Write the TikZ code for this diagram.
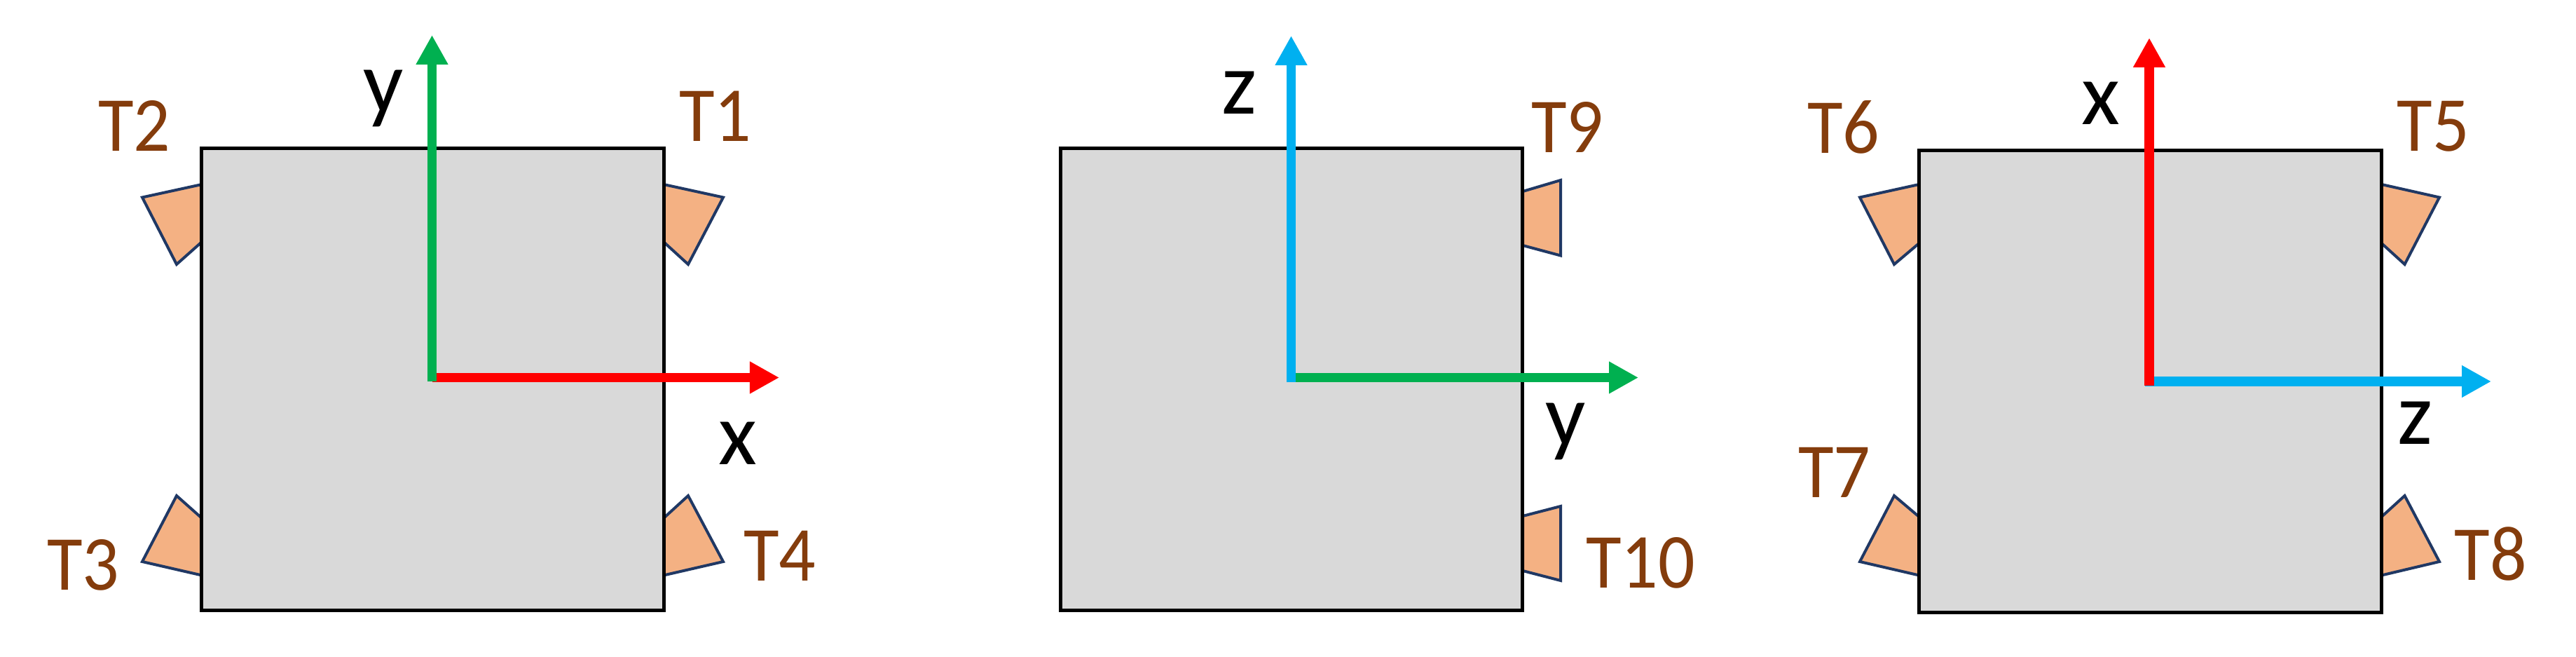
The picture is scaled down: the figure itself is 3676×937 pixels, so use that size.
\documentclass[tikz,border=0pt]{standalone}
\usepackage{xcolor}
\usepackage{fontspec}
\setmainfont{Carlito}
\usetikzlibrary{arrows.meta}
\definecolor{axisred}{HTML}{FF0000}
\definecolor{axisgreen}{HTML}{00B050}
\definecolor{axisblue}{HTML}{00B0F0}
\definecolor{wedgefill}{HTML}{F4B183}
\definecolor{wedgeline}{HTML}{203864}
\definecolor{bodyfill}{HTML}{D9D9D9}
\definecolor{tempcolor}{HTML}{843C0C}

\begin{document}
\begin{tikzpicture}[x=0.01cm, y=-0.01cm,
        body/.style={rectangle, draw=black, fill=bodyfill, line width=0.05cm, minimum size=6.59cm, inner sep=0pt},
        wedge/.style={draw=wedgeline, fill=wedgefill, line width=0.04cm, line join=miter},
        axis/.style={line width=0.135cm, -{Triangle[length=0.42cm, width=0.43cm]}},
        temp/.style={text=tempcolor, inner sep=0pt, yscale=1.07, transform shape, font=\fontsize{29.5}{32}\selectfont},
        letter/.style={text=black, inner sep=0pt, font=\fontsize{36}{40}\selectfont},
        ]
        \useasboundingbox (0,0) rectangle (3676,937);

        % left
        \draw[wedge] (947,263) -- (1032,281.5) -- (982,377) -- (947,345) -- cycle;
        \draw[wedge] (288,263) -- (203,281.5) -- (252,377) -- (288,345) -- cycle;
        \draw[wedge] (288,739) -- (252,707) -- (203,801) -- (288,820.5) -- cycle;
        \draw[wedge] (947,739) -- (982,707) -- (1032,801) -- (947,820.5) -- cycle;
        \node[body] (bodyA) at (617.5,541) {};

        \coordinate (oxA) at (617,538.5);
        \coordinate (oyA) at (616.5,544);
        \coordinate (xA) at (1112,538.5);
        \coordinate (yA) at (616.5,50);
        \draw[axis, axisred] (oxA) -- (xA);
        \draw[axis, axisgreen] (oyA) -- (yA);

        \node[letter] (labelxA) at (1053,632) {x};
        \node[letter] (labelyA) at (547,140) {y};
        \node[temp] (t1) at (1021,166) {T1};
        \node[temp] (t2) at (192,179) {T2};
        \node[temp] (t3) at (119,806) {T3};
        \node[temp] (t4) at (1113,793) {T4};

        % middle
        \draw[wedge] (2173,273) -- (2227,257) -- (2227,364.5) -- (2173,350) -- cycle;
        \draw[wedge] (2173,736) -- (2227,722) -- (2227,828) -- (2173,814) -- cycle;
        \node[body] (bodyB) at (1843,541) {};

        \coordinate (oyB) at (1843,538.5);
        \coordinate (ozB) at (1842.5,545);
        \coordinate (yB) at (2338,538.5);
        \coordinate (zB) at (1842.5,51);
        \draw[axis, axisgreen] (oyB) -- (yB);
        \draw[axis, axisblue] (ozB) -- (zB);

        \node[letter] (labelzB) at (1768,132) {z};
        \node[letter] (labelyB) at (2234,615) {y};
        \node[temp] (t9) at (2237,181) {T9};
        \node[temp] (t10) at (2341,803) {T10};

        % right
        \draw[wedge] (3398.5,263) -- (3481,281.5) -- (3431.5,377) -- (3398.5,347) -- cycle;
        \draw[wedge] (2738.5,263) -- (2654,281.5) -- (2703,377) -- (2738.5,347) -- cycle;
        \draw[wedge] (2738.5,737) -- (2703,707) -- (2654,801) -- (2738.5,820.5) -- cycle;
        \draw[wedge] (3398.5,737) -- (3431.5,707) -- (3481,801) -- (3398.5,820.5) -- cycle;
        \node[body] (bodyC) at (3068.5,544) {};

        \coordinate (ozC) at (3061,544);
        \coordinate (oxC) at (3067,550);
        \coordinate (zC) at (3555,544);
        \coordinate (xC) at (3067,54);
        \draw[axis, axisblue] (ozC) -- (zC);
        \draw[axis, axisred] (oxC) -- (xC);

        \node[letter] (labelxC) at (2998,147) {x};
        \node[letter] (labelzC) at (3446,603) {z};
        \node[temp] (t5) at (3472,180) {T5};
        \node[temp] (t6) at (2631,181) {T6};
        \node[temp] (t7) at (2618,674) {T7};
        \node[temp] (t8) at (3554,790) {T8};

\end{tikzpicture}
\end{document}
